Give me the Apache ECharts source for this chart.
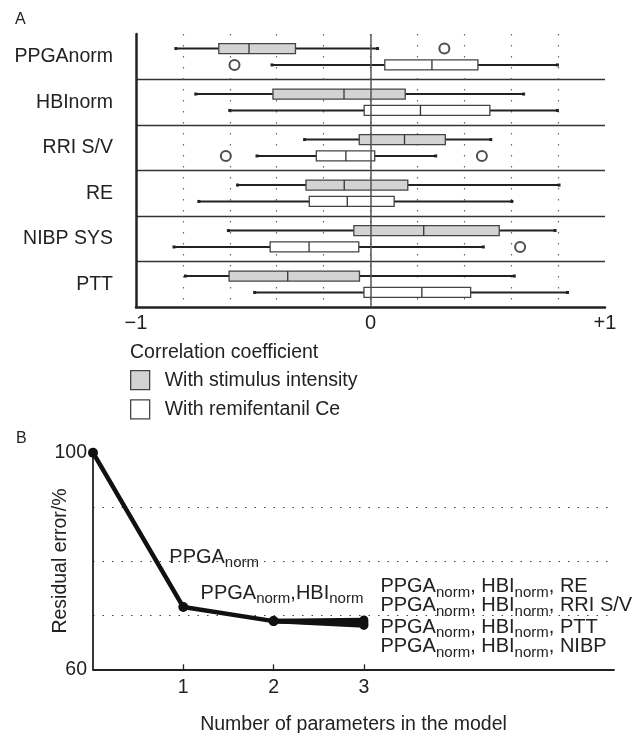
<!DOCTYPE html>
<meta charset="utf-8">
<style>
  body { margin: 0; background: #fff; }
  #chart { width: 643px; height: 733px; }
</style>
<body>
<div id="chart"></div>
<script src="https://cdn.jsdelivr.net/npm/echarts@6/dist/echarts.min.js"></script>
<script>

var font = '"Liberation Sans", Arial, sans-serif';
var ink = '#222';

// panel A: correlation coefficients
var categories = ['PPGAnorm', 'HBInorm', 'RRI S/V', 'RE', 'NIBP SYS', 'PTT'];
// [low whisker, q1, median, q3, high whisker]
var stimulusBoxes = [
  [-0.83, -0.647, -0.518, -0.32, 0.03],
  [-0.745, -0.416, -0.113, 0.148, 0.653],
  [-0.281, -0.048, 0.145, 0.319, 0.513],
  [-0.567, -0.275, -0.112, 0.159, 0.804],
  [-0.606, -0.071, 0.227, 0.549, 0.787],
  [-0.789, -0.603, -0.353, -0.047, 0.613]
];
var remifentanilBoxes = [
  [-0.42, 0.061, 0.262, 0.458, 0.797],
  [-0.6, -0.027, 0.213, 0.509, 0.797],
  [-0.484, -0.231, -0.105, 0.018, 0.278],
  [-0.732, -0.261, -0.099, 0.101, 0.603],
  [-0.838, -0.428, -0.262, -0.05, 0.481],
  [-0.494, -0.028, 0.219, 0.427, 0.84]
];
var stimulusOutliers = [[0.315, 'PPGAnorm']];
var remifentanilOutliers = [[-0.58, 'PPGAnorm'], [-0.617, 'RRI S/V'], [0.475, 'RRI S/V'], [0.638, 'NIBP SYS']];
var corrTickLabels = { '-1': '\u22121', '0': '0', '1': '+1' };

// panel B: residual error vs number of parameters
var steps = [0, 1, 2];
var residual = [100, 71.5, 68.9];
var stepLabels = ['', '{m|PPGA}{s|norm}', '{m|PPGA}{s|norm}{m|,HBI}{s|norm}'];
var step3Residual = [69.1, 68.75, 68.4, 68.1];
var step3Labels = [
  '{m|PPGA}{s|norm}{m|, HBI}{s|norm}{m|, RE}',
  '{m|PPGA}{s|norm}{m|, HBI}{s|norm}{m|, RRI S/V}',
  '{m|PPGA}{s|norm}{m|, HBI}{s|norm}{m|, PTT}',
  '{m|PPGA}{s|norm}{m|, HBI}{s|norm}{m|, NIBP}'
];
var residualTicks = [60, 100];
var paramTicks = [1, 2, 3];

var stepLabelShift = [null, [-19, -50], [-78, -28]];
var step3LabelShift = [[12, -33.5], [12, -16], [12, 3.5], [12, 21.5]];

var rich = {
  m: { fontFamily: font, fontSize: 20, lineHeight: 22, color: ink },
  s: { fontFamily: font, fontSize: 15, lineHeight: 22, color: ink, padding: [12, 0, 0, 0] }
};

function boxRenderer(offset) {
  return function (params, api) {
    var cat = api.value(0);
    var lo = api.coord([api.value(1), cat]);
    var q1 = api.coord([api.value(2), cat]);
    var md = api.coord([api.value(3), cat]);
    var q3 = api.coord([api.value(4), cat]);
    var hi = api.coord([api.value(5), cat]);
    var y = lo[1] + offset;
    var h = 10;
    var whisker = { stroke: ink, lineWidth: 2 };
    return {
      type: 'group',
      children: [
        { type: 'line', shape: { x1: lo[0], y1: y, x2: q1[0], y2: y }, style: whisker },
        { type: 'line', shape: { x1: q3[0], y1: y, x2: hi[0], y2: y }, style: whisker },
        { type: 'rect', shape: { x: lo[0] - 1.5, y: y - 1.5, width: 3, height: 3 }, style: { fill: ink } },
        { type: 'rect', shape: { x: hi[0] - 1.5, y: y - 1.5, width: 3, height: 3 }, style: { fill: ink } },
        { type: 'rect', shape: { x: q1[0], y: y - h / 2, width: q3[0] - q1[0], height: h },
          style: { fill: api.visual('color'), stroke: '#444', lineWidth: 1.3 } },
        { type: 'line', shape: { x1: md[0], y1: y - h / 2, x2: md[0], y2: y + h / 2 },
          style: { stroke: '#333', lineWidth: 1.3 } }
      ]
    };
  };
}

function withIndex(boxes) {
  return boxes.map(function (b, i) { return [i].concat(b); });
}

var series = [
  {
    name: 'With stimulus intensity', type: 'custom', xAxisIndex: 0, yAxisIndex: 0,
    renderItem: boxRenderer(-8.2), itemStyle: { color: '#d3d3d3' },
    encode: { x: [1, 2, 3, 4, 5], y: 0 }, data: withIndex(stimulusBoxes), z: 2
  },
  {
    name: 'With remifentanil Ce', type: 'custom', xAxisIndex: 0, yAxisIndex: 0,
    renderItem: boxRenderer(8.2), itemStyle: { color: '#ffffff' },
    encode: { x: [1, 2, 3, 4, 5], y: 0 }, data: withIndex(remifentanilBoxes), z: 2
  },
  {
    name: 'stimulus outliers', type: 'scatter', xAxisIndex: 0, yAxisIndex: 0,
    symbol: 'emptyCircle', symbolSize: 10, symbolOffset: [0, -8.2],
    itemStyle: { color: ink, borderWidth: 1.3 }, data: stimulusOutliers, z: 4,
    markLine: {
      silent: true, symbol: ['none', 'none'], label: { show: false },
      lineStyle: { color: '#555', type: 'solid', width: 1.5 },
      data: [{ xAxis: 0 }]
    }
  },
  {
    name: 'remifentanil outliers', type: 'scatter', xAxisIndex: 0, yAxisIndex: 0,
    symbol: 'emptyCircle', symbolSize: 10, symbolOffset: [0, 8.2],
    itemStyle: { color: ink, borderWidth: 1.3 }, data: remifentanilOutliers, z: 4
  },
  {
    name: 'model', type: 'line', xAxisIndex: 1, yAxisIndex: 1,
    symbol: 'circle', symbolSize: 10,
    lineStyle: { color: '#111', width: 4.5 }, itemStyle: { color: '#111' },
    data: steps.map(function (s, i) {
      var item = { value: [s, residual[i]] };
      if (stepLabels[i]) {
        item.label = { show: true, position: 'right', distance: 0, offset: stepLabelShift[i],
          formatter: stepLabels[i], rich: rich };
      }
      return item;
    }),
    z: 3
  }
];

step3Residual.forEach(function (v, i) {
  series.push({
    name: 'model3_' + i, type: 'line', xAxisIndex: 1, yAxisIndex: 1,
    symbol: 'circle', symbolSize: 9,
    lineStyle: { color: '#111', width: 4.5 }, itemStyle: { color: '#111' },
    data: [
      [steps[2], residual[2]],
      { value: [3, v], label: { show: true, position: 'right', distance: 0,
        offset: step3LabelShift[i], formatter: step3Labels[i], rich: rich } }
    ],
    z: 3
  });
});

var option = {
  animation: false,
  textStyle: { fontFamily: font, color: ink },
  title: [
    { text: 'A', left: 15, top: 12, padding: 0,
      textStyle: { fontFamily: font, fontSize: 16, fontWeight: 'normal', color: ink } },
    { text: 'Correlation coefficient', left: 130, top: 343, padding: 0,
      textStyle: { fontFamily: font, fontSize: 19.5, fontWeight: 'normal', color: ink } },
    { text: 'B', left: 16, top: 431, padding: 0,
      textStyle: { fontFamily: font, fontSize: 16, fontWeight: 'normal', color: ink } }
  ],
  legend: {
    orient: 'vertical', left: 130, top: 370, padding: 0,
    itemWidth: 19, itemHeight: 19, itemGap: 9,
    textStyle: { fontFamily: font, fontSize: 19.5, color: ink, padding: [0, 0, 0, 10] },
    data: [
      { name: 'With stimulus intensity', icon: 'rect', itemStyle: { color: '#d3d3d3', borderColor: '#444', borderWidth: 1.3 } },
      { name: 'With remifentanil Ce', icon: 'rect', itemStyle: { color: '#fff', borderColor: '#444', borderWidth: 1.3 } }
    ]
  },
  grid: [
    { left: 136, right: 38, top: 34, bottom: 426, outerBoundsMode: 'none' },
    { left: 93, right: 29, top: 452.7, bottom: 63.7, outerBoundsMode: 'none' }
  ],
  xAxis: [
    {
      gridIndex: 0, type: 'value', min: -1, max: 1, interval: 0.2,
      axisLine: { show: true, lineStyle: { color: ink, width: 2.5 } },
      axisTick: { show: false },
      axisLabel: {
        margin: 6, fontSize: 20, color: ink, fontFamily: font,
        formatter: function (v) {
          var k = String(Math.round(v * 10) / 10);
          return corrTickLabels[k] || '';
        }
      },
      splitLine: { show: true, showMinLine: false, showMaxLine: false,
        lineStyle: { color: '#666', width: 1.2, type: [1.5, 9.5] } }
    },
    {
      gridIndex: 1, type: 'value', min: 0, max: 5.77,
      name: 'Number of parameters in the model', nameLocation: 'middle', nameGap: 45,
      nameMoveOverlap: false,
      nameTextStyle: { fontFamily: font, fontSize: 19.5, color: ink },
      axisLine: { show: true, lineStyle: { color: ink, width: 1.8 } },
      axisTick: { show: true, inside: true, length: 5, customValues: paramTicks, lineStyle: { color: ink, width: 1.3 } },
      axisLabel: { customValues: paramTicks, margin: 8, fontSize: 19.5, color: ink, fontFamily: font },
      splitLine: { show: false }
    }
  ],
  yAxis: [
    {
      gridIndex: 0, type: 'category', data: categories, inverse: true,
      axisLine: { show: true, onZero: false, lineStyle: { color: ink, width: 2.5 } },
      axisTick: { show: false },
      axisLabel: { margin: 23, fontSize: 19.5, color: ink, fontFamily: font },
      splitLine: { show: true, showMinLine: false, showMaxLine: false,
        lineStyle: { color: '#333', width: 1.4, type: 'solid' } }
    },
    {
      gridIndex: 1, type: 'value', min: 60, max: 100, interval: 10,
      name: 'Residual error/%', nameLocation: 'middle', nameGap: 22,
      nameMoveOverlap: false,
      nameTextStyle: { fontFamily: font, fontSize: 19.5, color: ink },
      axisLine: { show: true, onZero: false, lineStyle: { color: ink, width: 1.8 } },
      axisTick: { show: false },
      axisLabel: { customValues: residualTicks, margin: 6, fontSize: 19.5, color: ink, fontFamily: font },
      splitLine: { show: true, showMinLine: false, showMaxLine: false,
        lineStyle: { color: '#444', width: 1.2, type: [1.5, 8] } }
    }
  ],
  series: series
};

var chart = echarts.init(document.getElementById('chart'), null, { renderer: 'canvas' });
chart.setOption(option);

</script>
</body>
